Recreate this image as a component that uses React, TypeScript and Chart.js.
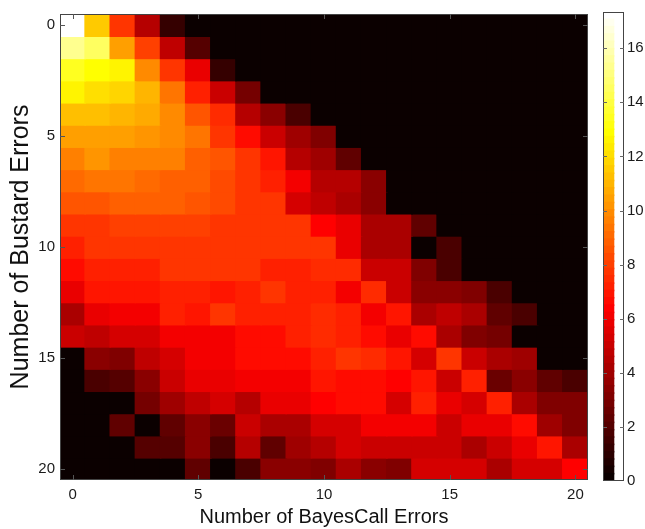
import React, { useEffect, useRef } from 'react';
import { Chart, registerables } from 'chart.js';

Chart.register(...registerables);

// x categories: number of BayesCall errors
const bayesCallErrors = ['0','1','2','3','4','5','6','7','8','9','10','11','12','13','14','15','16','17','18','19','20'];
// y rows: number of Bustard errors (0 .. 20); each row lists the cell values over BayesCall errors 0..20
const bustard00 = [17.2, 11.4, 7.7, 4.6, 1.3, 0, 0, 0, 0, 0, 0, 0, 0, 0, 0, 0, 0, 0, 0, 0, 0];
const bustard01 = [15.2, 14.4, 10.4, 8.1, 4.8, 2.1, 0, 0, 0, 0, 0, 0, 0, 0, 0, 0, 0, 0, 0, 0, 0];
const bustard02 = [13.3, 12.9, 12.7, 9.9, 7.6, 5.9, 1.3, 0, 0, 0, 0, 0, 0, 0, 0, 0, 0, 0, 0, 0, 0];
const bustard03 = [12.5, 12.1, 11.8, 11.0, 9.3, 7.1, 5.0, 2.9, 0, 0, 0, 0, 0, 0, 0, 0, 0, 0, 0, 0, 0];
const bustard04 = [11.3, 11.2, 11.0, 10.6, 9.9, 8.6, 7.4, 4.6, 3.3, 1.7, 0, 0, 0, 0, 0, 0, 0, 0, 0, 0, 0];
const bustard05 = [10.4, 10.4, 10.4, 10.2, 9.9, 9.3, 7.8, 6.7, 5.1, 3.8, 3.1, 0, 0, 0, 0, 0, 0, 0, 0, 0, 0];
const bustard06 = [9.6, 10.1, 9.7, 9.6, 9.6, 8.9, 8.6, 7.6, 7.0, 4.6, 3.8, 2.3, 0, 0, 0, 0, 0, 0, 0, 0, 0];
const bustard07 = [9.1, 9.3, 9.4, 9.2, 8.9, 8.7, 8.3, 7.8, 7.1, 6.0, 4.4, 4.6, 3.5, 0, 0, 0, 0, 0, 0, 0, 0];
const bustard08 = [8.6, 8.6, 8.9, 8.7, 8.7, 8.6, 8.2, 7.8, 7.6, 5.4, 4.7, 4.3, 3.5, 0, 0, 0, 0, 0, 0, 0, 0];
const bustard09 = [7.8, 7.6, 8.1, 8.1, 8.1, 8.0, 7.8, 7.6, 7.6, 7.6, 6.4, 5.9, 4.3, 4.3, 2.3, 0, 0, 0, 0, 0, 0];
const bustard10 = [7.2, 7.6, 7.8, 7.8, 7.8, 7.8, 7.7, 7.6, 7.6, 7.6, 7.6, 5.9, 4.2, 4.2, 0, 1.7, 0, 0, 0, 0, 0];
const bustard11 = [6.7, 7.1, 7.1, 7.1, 7.6, 7.6, 7.6, 7.6, 7.3, 7.3, 7.4, 7.4, 5.0, 5.0, 3.1, 1.7, 0, 0, 0, 0, 0];
const bustard12 = [5.9, 6.9, 6.9, 6.9, 7.3, 7.3, 6.9, 7.3, 7.6, 7.3, 7.1, 6.2, 7.4, 5.0, 3.3, 3.3, 3.1, 1.7, 0, 0, 0];
const bustard13 = [4.3, 5.9, 6.2, 6.2, 7.1, 7.0, 7.6, 7.1, 7.1, 7.1, 7.4, 7.3, 6.0, 7.0, 4.3, 4.8, 4.2, 2.3, 1.7, 0, 0];
const bustard14 = [5.0, 4.8, 5.4, 5.4, 6.2, 6.2, 6.2, 6.7, 6.7, 7.1, 7.4, 7.3, 6.6, 5.9, 6.6, 4.3, 3.1, 2.9, 0, 0, 0];
const bustard15 = [0, 3.3, 3.1, 4.8, 5.4, 6.0, 6.0, 6.7, 6.7, 6.7, 7.2, 7.6, 7.4, 7.0, 5.4, 7.6, 5.1, 4.3, 3.8, 0, 0];
const bustard16 = [0, 1.7, 2.1, 3.3, 5.0, 5.9, 5.9, 6.2, 6.2, 6.2, 6.9, 6.7, 6.7, 6.3, 6.9, 5.1, 7.3, 2.7, 3.3, 2.3, 1.7];
const bustard17 = [0, 0, 0, 2.9, 3.8, 4.8, 5.4, 4.6, 5.9, 5.9, 6.4, 6.7, 6.7, 5.4, 7.1, 5.9, 5.4, 7.1, 4.3, 3.1, 3.1];
const bustard18 = [0, 0, 2.3, 0, 2.3, 3.3, 2.5, 5.0, 4.2, 4.3, 5.2, 5.4, 6.0, 6.0, 6.0, 5.1, 5.9, 5.9, 6.7, 3.8, 3.1];
const bustard19 = [0, 0, 0, 1.9, 1.9, 3.3, 1.7, 4.6, 2.3, 3.8, 4.6, 5.4, 5.1, 5.1, 5.1, 4.9, 4.2, 4.9, 5.9, 6.9, 4.2];
const bustard20 = [0, 0, 0, 0, 0, 2.3, 0.2, 1.7, 3.3, 3.3, 3.1, 4.3, 3.5, 3.1, 5.4, 5.4, 5.4, 4.3, 5.4, 5.4, 6.4];

const bustardRows = [
  bustard00, bustard01, bustard02, bustard03, bustard04, bustard05, bustard06,
  bustard07, bustard08, bustard09, bustard10, bustard11, bustard12, bustard13,
  bustard14, bustard15, bustard16, bustard17, bustard18, bustard19, bustard20,
];

// axis tick labels
const axisTicks = [0, 5, 10, 15, 20];
const colorbarTicks = [0, 2, 4, 6, 8, 10, 12, 14, 16];
// colour scale limits
const colorMin = 0;
const colorMax = 17.34;

const FONT = '"Liberation Sans", Arial, Helvetica, sans-serif';

function hot(t: number): string {
  let i = Math.floor(t * 64);
  if (i < 0) i = 0;
  if (i > 63) i = 63;
  const k = i + 1;
  const c = (x: number) => Math.max(0, Math.min(1, x));
  const r = c(k / 24), g = c((k - 24) / 24), b = c((k - 48) / 16);
  return `rgb(${Math.round(r * 255)},${Math.round(g * 255)},${Math.round(b * 255)})`;
}

function colorFor(v: number): string {
  return hot((v - colorMin) / (colorMax - colorMin));
}

const boxPlugin = {
  id: 'boxTicks',
  afterDraw(chart: any, _args: any, opts: any) {
    const { ctx, chartArea: a } = chart;
    ctx.save();
    ctx.strokeStyle = opts.color || '#333';
    ctx.lineWidth = 1;
    ctx.strokeRect(a.left + 0.5, a.top + 0.5, a.right - a.left - 1, a.bottom - a.top - 1);
    const L = opts.len || 5;
    ctx.strokeStyle = opts.tickColor || '#555';
    ctx.beginPath();
    if (opts.xTicks && chart.scales.x) {
      for (const v of opts.xTicks) {
        const px = Math.round(chart.scales.x.getPixelForValue(v)) + 0.5;
        ctx.moveTo(px, a.bottom); ctx.lineTo(px, a.bottom - L);
        ctx.moveTo(px, a.top); ctx.lineTo(px, a.top + L);
      }
    }
    if (opts.yTicks && chart.scales.y) {
      for (const v of opts.yTicks) {
        const py = Math.round(chart.scales.y.getPixelForValue(v)) + 0.5;
        ctx.moveTo(a.left, py); ctx.lineTo(a.left + L, py);
        ctx.moveTo(a.right, py); ctx.lineTo(a.right - L, py);
      }
    }
    ctx.stroke();
    ctx.restore();
  },
};

export default function App() {
  const mainRef = useRef<HTMLCanvasElement>(null);
  const barRef = useRef<HTMLCanvasElement>(null);

  useEffect(() => {
    Chart.defaults.font.family = FONT;
    Chart.defaults.color = '#1a1a1a';

    const datasets = bustardRows.map((row, r) => ({
      data: row.map(() => [r - 0.5, r + 0.5]),
      backgroundColor: row.map((v) => colorFor(v)),
      borderWidth: 0,
      inflateAmount: 0.8,
      barPercentage: 1,
      categoryPercentage: 1,
    }));

    const main = new Chart(mainRef.current!, {
      type: 'bar',
      data: { labels: bayesCallErrors, datasets: datasets as any },
      plugins: [boxPlugin],
      options: {
        animation: false,
        responsive: false,
        maintainAspectRatio: false,
        layout: { padding: { top: 11, right: 10, left: 0, bottom: 0 } },
        plugins: {
          legend: { display: false },
          tooltip: { enabled: false },
          boxTicks: { xTicks: axisTicks, yTicks: axisTicks, len: 5, color: '#444', tickColor: '#555' },
        } as any,
        scales: {
          x: {
            type: 'category',
            stacked: true,
            offset: true,
            grid: { display: false, drawTicks: false },
            border: { display: false },
            ticks: {
              autoSkip: false,
              maxRotation: 0,
              minRotation: 0,
              padding: 6,
              font: { size: 15 },
              color: '#1a1a1a',
              callback: (_v: any, i: number) => (axisTicks.includes(i) ? bayesCallErrors[i] : ''),
            },
            title: { display: true, text: 'Number of BayesCall Errors', font: { size: 20 }, color: '#111', padding: { top: 0, bottom: 0 } },
            afterFit: (s: any) => { s.height = 49; },
          },
          y: {
            type: 'linear',
            min: -0.5,
            max: 20.5,
            reverse: true,
            stacked: false,
            grid: { display: false, drawTicks: false },
            border: { display: false },
            afterBuildTicks: (s: any) => { s.ticks = axisTicks.map((v) => ({ value: v })); },
            ticks: { padding: 5, font: { size: 15 }, color: '#1a1a1a' },
            title: { display: true, text: 'Number of Bustard Errors', font: { size: 25 }, color: '#111', padding: { top: 6, bottom: 0 } },
            afterFit: (s: any) => { s.width = 60; },
          },
        },
      } as any,
    });

    const n = 64;
    const step = (colorMax - colorMin) / n;
    const cbSets = Array.from({ length: n }, (_, i) => ({
      data: [[colorMin + i * step, colorMin + (i + 1) * step]],
      backgroundColor: hot((i + 0.5) / n),
      borderWidth: 0,
      inflateAmount: 0.8,
      barPercentage: 1,
      categoryPercentage: 1,
    }));

    const bar = new Chart(barRef.current!, {
      type: 'bar',
      data: { labels: [''], datasets: cbSets as any },
      plugins: [boxPlugin],
      options: {
        animation: false,
        responsive: false,
        maintainAspectRatio: false,
        layout: { padding: { top: 11, left: 13, bottom: 48, right: 0 } },
        plugins: {
          legend: { display: false },
          tooltip: { enabled: false },
          boxTicks: { yTicks: colorbarTicks.filter((v) => v > 0), len: 4, color: '#444', tickColor: '#666' },
        } as any,
        scales: {
          x: { type: 'category', display: false, stacked: true, offset: false },
          y: {
            type: 'linear',
            position: 'right',
            min: colorMin,
            max: colorMax,
            stacked: false,
            grid: { display: false, drawTicks: false },
            border: { display: false },
            afterBuildTicks: (s: any) => { s.ticks = colorbarTicks.map((v) => ({ value: v })); },
            ticks: { padding: 3, font: { size: 15 }, color: '#1a1a1a' },
            afterFit: (s: any) => { s.width = 21; },
          },
        },
      } as any,
    });

    return () => {
      main.destroy();
      bar.destroy();
    };
  }, []);

  return (
    <div style={{ position: 'fixed', left: 0, top: 0, width: 645, height: 529, background: '#fff' }}>
      <canvas ref={mainRef} width={598} height={529} style={{ position: 'absolute', left: 0, top: 0, width: 598, height: 529 }} />
      <canvas ref={barRef} width={55} height={529} style={{ position: 'absolute', left: 590, top: 0, width: 55, height: 529 }} />
    </div>
  );
}
